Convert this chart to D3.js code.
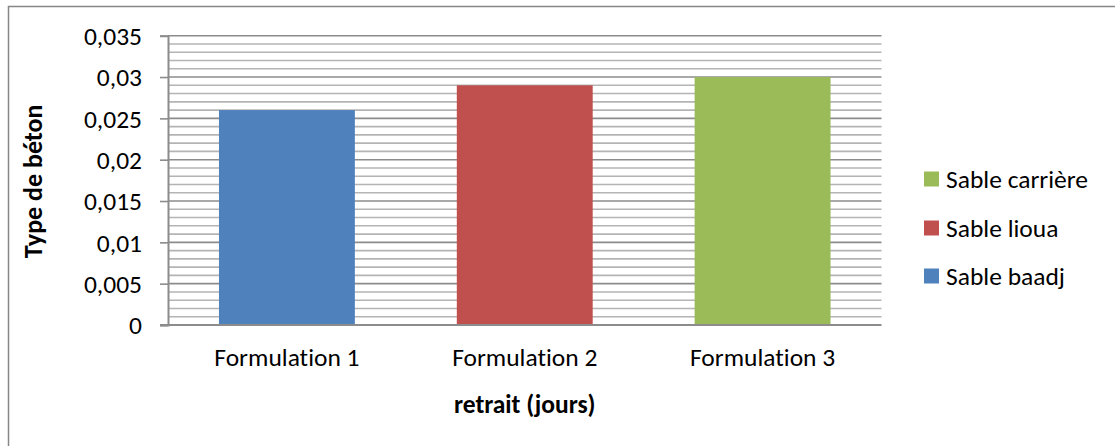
<!DOCTYPE html>
<html>
<head>
<meta charset="utf-8">
<script src="https://cdn.jsdelivr.net/npm/d3@7"></script>
<style>
  html, body { margin: 0; padding: 0; background: #fff; }
  svg { display: block; }
  text { font-family: Carlito, Calibri, Lato, "Liberation Sans", sans-serif; fill: #000; font-variant-ligatures: none; }
</style>
</head>
<body>
<svg id="chart" width="1115" height="446"></svg>
<script>
// Shrinkage by concrete formulation
const categories = ["Formulation 1", "Formulation 2", "Formulation 3"];
const seriesNames = ["Sable baadj", "Sable lioua", "Sable carrière"];
const values = [0.026, 0.029, 0.030];
const colors = ["#4F81BD", "#C0504D", "#9BBB59"];
const yTicks = [0, 0.005, 0.01, 0.015, 0.02, 0.025, 0.03, 0.035];
const yTickLabels = ["0", "0,005", "0,01", "0,015", "0,02", "0,025", "0,03", "0,035"];
const yMinorStep = 0.001;
const xTitle = "retrait (jours)";
const yTitle = "Type de béton";

const svg = d3.select("#chart");
const W = 1115, H = 446;
const plot = { left: 168, right: 881.5, top: 35.7, bottom: 325 };
const FS = "25.5px";

// outer chart frame
svg.append("rect")
  .attr("x", 8.5).attr("y", 6.5)
  .attr("width", W + 20).attr("height", H + 20)
  .attr("fill", "#fff").attr("stroke", "#868686").attr("stroke-width", 1.5);

const x = d3.scaleBand().domain(categories).range([plot.left, plot.right]).paddingInner(0.4286).paddingOuter(0.2143);
const y = d3.scaleLinear().domain([0, 0.035]).range([plot.bottom, plot.top]);

// minor gridlines
const minor = d3.range(0, 0.035 + 1e-9, yMinorStep).filter(v => Math.abs(v / 0.005 - Math.round(v / 0.005)) > 1e-6);
svg.append("g").selectAll("line").data(minor).join("line")
  .attr("x1", plot.left).attr("x2", plot.right)
  .attr("y1", d => y(d)).attr("y2", d => y(d))
  .attr("stroke", "#B4B4B4").attr("stroke-width", 1.6);

// major gridlines
svg.append("g").selectAll("line").data(yTicks.filter(v => v > 0)).join("line")
  .attr("x1", plot.left).attr("x2", plot.right)
  .attr("y1", d => y(d)).attr("y2", d => y(d))
  .attr("stroke", "#8C8C8C").attr("stroke-width", 1.6);

// bars
svg.append("g").selectAll("rect").data(values).join("rect")
  .attr("x", (d, i) => x(categories[i]))
  .attr("width", x.bandwidth())
  .attr("y", d => y(d))
  .attr("height", d => y(0) - y(d))
  .attr("fill", (d, i) => colors[i]);

// y axis
const yAxis = d3.axisLeft(y).tickValues(yTicks)
  .tickFormat((d, i) => yTickLabels[i]).tickSize(8).tickPadding(18);
const gy = svg.append("g").attr("transform", `translate(${plot.left},0)`).call(yAxis);
gy.select(".domain").attr("stroke", "#8C8C8C").attr("stroke-width", 2);
gy.selectAll(".tick line").attr("stroke", "#8C8C8C").attr("stroke-width", 1.6);
gy.selectAll(".tick text").style("font-size", FS).attr("dy", "0.35em")
  .style("font-family", "Carlito, Calibri, Lato, sans-serif");

// x axis baseline and category labels
const xAxis = d3.axisBottom(x).tickSize(0).tickPadding(32);
const gx = svg.append("g").attr("transform", `translate(0,${plot.bottom})`).call(xAxis);
gx.select(".domain").remove();
svg.append("line").attr("x1", plot.left - 8).attr("x2", plot.right)
  .attr("y1", plot.bottom).attr("y2", plot.bottom)
  .attr("stroke", "#8C8C8C").attr("stroke-width", 2);
gx.selectAll(".tick text").style("font-size", FS).attr("dy", "0.35em")
  .style("font-family", "Carlito, Calibri, Lato, sans-serif");

// axis titles
svg.append("text").attr("x", (plot.left + plot.right) / 2).attr("y", 404).attr("dy", "0.35em")
  .attr("text-anchor", "middle").style("font-size", FS).style("font-weight", "bold")
  .text(xTitle);
svg.append("text").attr("transform", `translate(33,${(plot.top + plot.bottom) / 2 + 1}) rotate(-90)`)
  .attr("dy", "0.35em")
  .attr("text-anchor", "middle").style("font-size", "26px").style("font-weight", "bold")
  .text(yTitle);

// legend (reverse order, top to bottom)
const legendY = [179, 228, 276];
const legendItems = seriesNames.map((n, i) => ({ name: n, color: colors[i] })).reverse();
const lg = svg.append("g").selectAll("g").data(legendItems).join("g")
  .attr("transform", (d, i) => `translate(924,${legendY[i]})`);
lg.append("rect").attr("x", 0).attr("y", -7.5).attr("width", 15).attr("height", 15)
  .attr("fill", d => d.color);
lg.append("text").attr("x", 22).attr("dy", "0.35em").style("font-size", FS)
  .text(d => d.name);
</script>
</body>
</html>
